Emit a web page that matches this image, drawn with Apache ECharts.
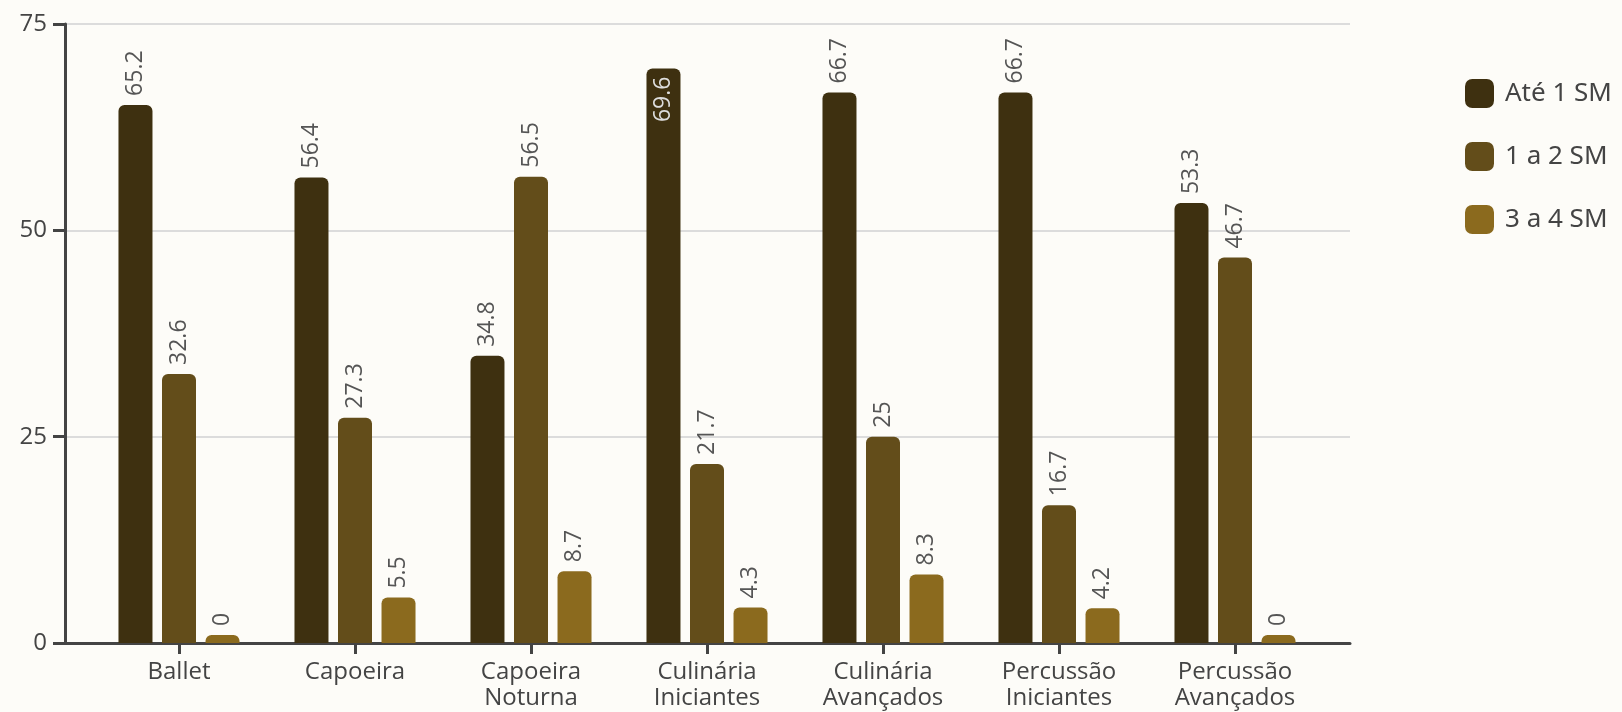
<!DOCTYPE html>
<html><head><meta charset="utf-8">
<script src="https://cdn.jsdelivr.net/npm/echarts@6/dist/echarts.min.js"></script>
<style>html,body{margin:0;padding:0;background:#fdfcf8;}#c{width:1622px;height:712px;}</style>
</head><body><div id="c"></div>
<script>
const categories = ['Ballet','Capoeira','Capoeira\nNoturna','Culinária\nIniciantes','Culinária\nAvançados','Percussão\nIniciantes','Percussão\nAvançados'];
const seriesNames = ['Até 1 SM','1 a 2 SM','3 a 4 SM'];
const ate1 = [65.2, 56.4, 34.8, 69.6, 66.7, 66.7, 53.3];
const um2 = [32.6, 27.3, 56.5, 21.7, 25, 16.7, 46.7];
const tres4 = [0, 5.5, 8.7, 4.3, 8.3, 4.2, 0];
const yTicks = [0, 25, 50, 75];
const colors = ['#3e3010','#634d1a','#8b6a1e'];
const FONT = 'Open Sans';
const chart = echarts.init(document.getElementById('c'));
const labelBase = {show:true, position:'top', rotate:90, align:'left', verticalAlign:'middle', distance:9, color:'#555', fontSize:23, fontFamily:FONT};
function mk(name, data, i){
  return {name, type:'bar', xAxisIndex:0, yAxisIndex:0, data:data.map((v)=>{
      if (v>=68) return {value:v, label:{position:'insideTop', align:'right', color:'#ddd', distance:8}};
      return v;
    }),
    barWidth:34, barGap:'28%', barMinHeight:8,
    itemStyle:{color:colors[i], borderRadius:[6,6,0,0]},
    label:labelBase};
}
chart.setOption({
  backgroundColor:'#fdfcf8',
  animation:false,
  textStyle:{fontFamily:FONT},
  legend:{orient:'vertical', left:1460, top:74, itemWidth:29, itemHeight:29, itemGap:34, icon:'roundRect',
    textStyle:{fontSize:26, color:'#444', fontFamily:'Noto Sans', padding:[0,0,0,6]}, data:seriesNames},
  grid:[{left:91, right:299, top:24, bottom:69},{left:65, right:272, top:24, bottom:69}],
  xAxis:[
    {type:'category', gridIndex:0, data:categories, axisLine:{show:false},
     axisTick:{show:true, alignWithLabel:true, length:11, lineStyle:{color:'#444', width:3}},
     axisLabel:{color:'#444', fontSize:24, lineHeight:26, margin:16, fontFamily:FONT, interval:0}},
    {type:'value', gridIndex:1, min:0, max:1, axisLabel:{show:false}, splitLine:{show:false}, axisTick:{show:false},
     axisLine:{show:true, lineStyle:{color:'#444', width:3}}}
  ],
  yAxis:[
    {type:'value', gridIndex:0, min:0, max:75, show:false, splitLine:{show:false}},
    {type:'value', gridIndex:1, min:yTicks[0], max:yTicks[yTicks.length-1], interval:25,
     axisLine:{show:true, lineStyle:{color:'#444', width:3}},
     axisTick:{show:true, length:12, lineStyle:{color:'#444', width:3}},
     axisLabel:{color:'#444', fontSize:24, margin:18, fontFamily:FONT},
     splitLine:{show:true, lineStyle:{color:'#dcdcdc', width:2}}}
  ],
  series:[mk(seriesNames[0], ate1, 0), mk(seriesNames[1], um2, 1), mk(seriesNames[2], tres4, 2)]
});
</script></body></html>
